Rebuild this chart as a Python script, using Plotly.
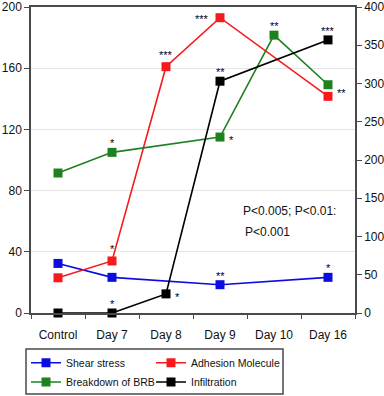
import plotly.graph_objects as go

categories = ["Control", "Day 7", "Day 8", "Day 9", "Day 10", "Day 16"]

shear_stress = [32.4, 23.3, None, 18.5, None, 23.3]
adhesion = [23.0, 34.0, 161.0, 193.0, None, 141.6]
brb = [91.5, 105.0, None, 115.0, 181.6, 149.2]
infiltration = [0.0, 0.0, 25.0, 303.0, None, 357.0]  # right axis

shear_sig = ["", "", "", "**", "", "*"]
adhesion_sig = ["", "*", "***", "***", "", "**"]
brb_sig = ["", "*", "", "*", "**", ""]
infiltration_sig = ["", "*", "*", "**", "", "***"]

left_ticks = [0, 40, 80, 120, 160, 200]
right_ticks = [0, 50, 100, 150, 200, 250, 300, 350, 400]
p_text = ["P&lt;0.005; P&lt;0.01:", "P&lt;0.001"]

# placement styles for significance labels (pixel shifts)
SHIFT = {"up": (0, 9), "uphi": (0, 12), "right": (11, -3), "left": (-18, -1),
         "rightup": (13, 3)}
place = {
    "Shear stress": ["up"] * 6,
    "Adhesion Molecule": ["up", "uphi", "uphi", "left", "up", "rightup"],
    "Breakdown of BRB": ["up", "up", "up", "right", "up", "up"],
    "Infiltration": ["up", "up", "right", "up", "up", "up"],
}
# legend slot for each series: (legend id, paper x, paper y)
LEG = {
    "Shear stress": ("legend", -0.0154, -0.1624),
    "Adhesion Molecule": ("legend2", 0.3704, -0.1624),
    "Breakdown of BRB": ("legend3", -0.0154, -0.2255),
    "Infiltration": ("legend4", 0.3704, -0.2255),
}

FONT = "Liberation Sans, Arial, Helvetica, sans-serif"
AX = "#4a4a4a"

series = [
    ("Shear stress", shear_stress, shear_sig, "#0c0ce0", "y"),
    ("Adhesion Molecule", adhesion, adhesion_sig, "#f71a1c", "y"),
    ("Breakdown of BRB", brb, brb_sig, "#1f801f", "y"),
    ("Infiltration", infiltration, infiltration_sig, "#000000", "y2"),
]

fig = go.Figure()
annotations = []
legends = {}
for name, vals, sig, color, yax in series:
    lid, lx, ly = LEG[name]
    fig.add_trace(go.Scatter(
        x=categories, y=vals, name=name, mode="lines+markers",
        connectgaps=True, yaxis=yax, legend=lid,
        line=dict(color=color, width=1.6),
        marker=dict(symbol="square", size=9, color=color),
        cliponaxis=False,
    ))
    legends[lid] = dict(x=lx, y=ly, xanchor="left", yanchor="middle",
                        orientation="v", borderwidth=0, bgcolor="rgba(0,0,0,0)",
                        font=dict(size=10.5, family=FONT, color="#111"))
    for i, (v, s) in enumerate(zip(vals, sig)):
        if s and v is not None:
            dx, dy = SHIFT[place[name][i]]
            annotations.append(dict(
                x=categories[i], y=v, xref="x", yref=yax, text=s,
                showarrow=False, xshift=dx, yshift=dy,
                font=dict(size=11, color="#000000", family=FONT),
            ))

annotations.append(dict(x=0.948, y=0.334, xref="paper", yref="paper", text=p_text[0],
                        xanchor="right", yanchor="middle", showarrow=False,
                        font=dict(size=12, color="#111", family=FONT)))
annotations.append(dict(x=0.655, y=0.266, xref="paper", yref="paper", text=p_text[1],
                        xanchor="left", yanchor="middle", showarrow=False,
                        font=dict(size=12, color="#111", family=FONT)))

fig.update_layout(
    width=384, height=396,
    margin=dict(l=31, r=29, t=7, b=83, autoexpand=False),
    paper_bgcolor="white", plot_bgcolor="white",
    font=dict(family=FONT, size=12, color="#111"),
    showlegend=True,
    annotations=annotations,
    shapes=[dict(type="rect", xref="paper", yref="paper",
                 x0=-0.0154, x1=0.7778, y0=-0.2647, y1=-0.1176,
                 line=dict(color=AX, width=1.5), fillcolor="rgba(0,0,0,0)")],
    xaxis=dict(type="category", categoryorder="array", categoryarray=categories,
               range=[-0.5, 5.5], tickson="boundaries", ticks="outside", ticklen=4,
               tickcolor=AX, showline=True, linecolor=AX, linewidth=1.5, mirror=True,
               showgrid=False, zeroline=False, tickfont=dict(size=12),
               ticklabelstandoff=10),
    yaxis=dict(range=[0, 200], tickvals=left_ticks, ticks="outside", ticklen=5,
               tickcolor=AX, showline=True, linecolor=AX, linewidth=1.5,
               showgrid=True, gridcolor="#e6e6e6", gridwidth=1, zeroline=False,
               tickfont=dict(size=12)),
    yaxis2=dict(range=[0, 400], tickvals=right_ticks, overlaying="y", side="right",
                ticks="outside", ticklen=5, tickcolor=AX, showline=True, linecolor=AX,
                linewidth=1.5, showgrid=False, zeroline=False, tickfont=dict(size=12)),
)
fig.update_layout(**legends)

fig.write_html("out.html", config={"displayModeBar": False},
               post_script="document.body.style.margin='0';document.body.style.overflow='hidden';")
